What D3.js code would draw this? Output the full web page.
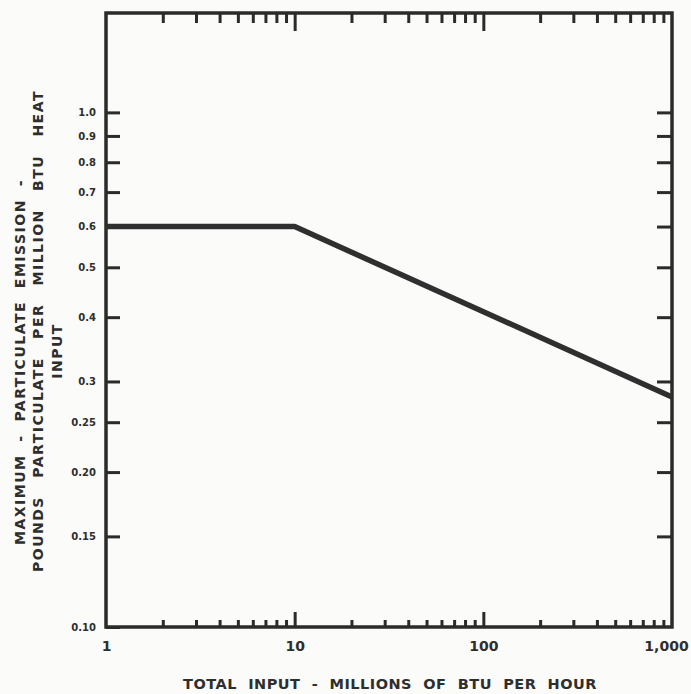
<!DOCTYPE html>
<html><head><meta charset="utf-8">
<script src="https://cdn.jsdelivr.net/npm/d3@7/dist/d3.min.js"></script>
<style>
body{margin:0;background:#fbfbf9;}
svg{display:block;}
text{font-family:"DejaVu Sans",sans-serif;font-weight:bold;fill:#2e2e2e;}
</style>
</head><body>
<svg id="chart" width="691" height="694"></svg>
<script>
// ---- data ----
const xDomain = [1, 1000];
const yDomain = [0.1, 1.56];
const totalInput = [1, 10, 1000];          // millions of BTU per hour
const maxEmission = [0.6, 0.6, 0.28];      // lb particulate per million BTU
const yTickValues = [1.0, 0.9, 0.8, 0.7, 0.6, 0.5, 0.4, 0.3, 0.25, 0.20, 0.15, 0.10];
const yTickLabels = ["1.0", "0.9", "0.8", "0.7", "0.6", "0.5", "0.4", "0.3", "0.25", "0.20", "0.15", "0.10"];
const xMinorTicks = [2,3,4,5,6,7,8,9,20,30,40,50,60,70,80,90,200,300,400,500,600,700,800,900];
const xMajorTicks = [10, 100];
const xLabelValues = [1, 10, 100, 1000];
const xLabels = ["1", "10", "100", "1,000"];
const xTitle = "TOTAL INPUT - MILLIONS OF BTU PER HOUR";
const yTitleLines = ["MAXIMUM - PARTICULATE EMISSION -", "POUNDS PARTICULATE PER MILLION BTU HEAT", "INPUT"];

// ---- layout ----
const margin = {left: 106, right: 19, top: 13, bottom: 67};
const W = 691, H = 694;
const ink = "#2b2b2b";
const FONT = '"DejaVu Sans",sans-serif';

const svg = d3.select("#chart");
svg.append("rect").attr("width", W).attr("height", H).attr("fill", "#fbfbf9");

const x = d3.scaleLog().domain(xDomain).range([margin.left, W - margin.right]);
const y = d3.scaleLog().domain(yDomain).range([H - margin.bottom, margin.top]);
const x0 = x.range()[0], x1 = x.range()[1], yb = y.range()[0], yt = y.range()[1];

function styleAxis(g) {
  g.select(".domain").remove();
  g.selectAll(".tick line").attr("stroke", ink).attr("stroke-width", 3);
}

// bottom ticks (inward, upward)
svg.append("g").attr("transform", `translate(0,${yb})`)
  .call(d3.axisBottom(x).tickValues(xMinorTicks).tickSize(-7).tickFormat(""))
  .call(styleAxis);
svg.append("g").attr("transform", `translate(0,${yb})`)
  .call(d3.axisBottom(x).tickValues(xMajorTicks).tickSize(-15).tickFormat(""))
  .call(styleAxis);
// bottom labels
const xl = svg.append("g").attr("transform", `translate(0,${yb})`)
  .call(d3.axisBottom(x).tickValues(xLabelValues).tickSize(0).tickPadding(14)
    .tickFormat((d, i) => xLabels[i]));
xl.select(".domain").remove();
xl.selectAll("text").attr("font-size", 14).attr("fill", "#2e2e2e")
  .attr("font-family", FONT).attr("font-weight", "bold")
  .attr("dx", (d) => d === 1000 ? -6 : 0);

// top ticks (inward, downward)
svg.append("g").attr("transform", `translate(0,${yt})`)
  .call(d3.axisTop(x).tickValues(xMinorTicks).tickSize(-10).tickFormat(""))
  .call(styleAxis);
svg.append("g").attr("transform", `translate(0,${yt})`)
  .call(d3.axisTop(x).tickValues(xMajorTicks).tickSize(-18).tickFormat(""))
  .call(styleAxis);

// left ticks + labels
const yl = svg.append("g").attr("transform", `translate(${x0},0)`)
  .call(d3.axisLeft(y).tickValues(yTickValues).tickSize(-14).tickPadding(10)
    .tickFormat((d, i) => yTickLabels[i]));
styleAxis(yl);
yl.selectAll("text").attr("font-size", 10).attr("fill", "#2e2e2e")
  .attr("font-family", FONT).attr("font-weight", "bold");

// right ticks
svg.append("g").attr("transform", `translate(${x1},0)`)
  .call(d3.axisRight(y).tickValues(yTickValues.slice(0, -1)).tickSize(-15).tickFormat(""))
  .call(styleAxis);

// frame
svg.append("rect").attr("x", x0).attr("y", yt).attr("width", x1 - x0).attr("height", yb - yt)
  .attr("fill", "none").attr("stroke", ink).attr("stroke-width", 3.5);

// data line
const pts = totalInput.map((d, i) => [d, maxEmission[i]]);
svg.append("path").datum(pts)
  .attr("d", d3.line().x(d => x(d[0])).y(d => y(d[1])))
  .attr("fill", "none").attr("stroke", "#2f2f2f").attr("stroke-width", 5.5)
  .attr("stroke-linejoin", "round");

// fit a text to a target length by widening the word gaps
function fitWords(sel, target) {
  const n = (sel.text().match(/ /g) || []).length;
  const len = sel.node().getComputedTextLength();
  if (n > 0) sel.attr("word-spacing", Math.max(0, (target - len) / n));
}

// x title
const xt = svg.append("text").attr("x", 390).attr("y", 689).attr("text-anchor", "middle")
  .attr("font-size", 14.5).attr("letter-spacing", 0.5)
  .text(xTitle);
fitWords(xt, 414);

// y title (rotated lines)
const yTitlePos = [
  {cx: 20, cy: 362, len: 366},
  {cx: 38, cy: 331, len: 482},
  {cx: 57, cy: 351, len: 0}
];
yTitleLines.forEach((t, i) => {
  const p = yTitlePos[i];
  const tt = svg.append("text")
    .attr("transform", `translate(${p.cx + 5},${p.cy}) rotate(-90)`)
    .attr("text-anchor", "middle").attr("font-size", 14).attr("letter-spacing", 1.5)
    .text(t);
  if (p.len) fitWords(tt, p.len);
});
</script>
</body></html>
